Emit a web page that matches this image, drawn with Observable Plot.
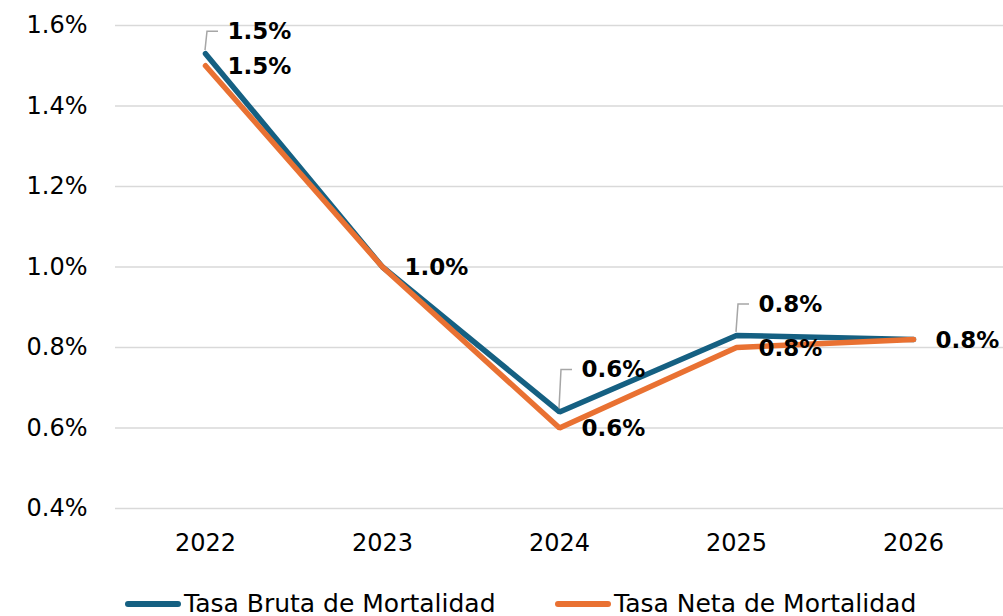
<!DOCTYPE html>
<html>
<head>
<meta charset="utf-8">
<script src="https://cdn.jsdelivr.net/npm/d3@7"></script>
<script src="https://cdn.jsdelivr.net/npm/@observablehq/plot@0.6"></script>
<style>
  html, body { margin: 0; padding: 0; background: #fff; }
  #wrap { position: relative; width: 1003px; height: 616px; font-family: "DejaVu Sans", sans-serif; }
  #legend { position: absolute; left: 0; top: 587px; width: 1003px; height: 30px; }
  .item { position: absolute; top: 0; display: flex; align-items: center; font-size: 25px; color: #000; white-space: nowrap; }
  .item svg { margin-right: 2px; }
</style>
</head>
<body>
<div id="wrap">
  <div id="chart"></div>
  <div id="legend"></div>
</div>
<script>
// Mortality rates (%) by year
const years = ["2022", "2023", "2024", "2025", "2026"];
const tasaBruta = [1.53, 1.00, 0.64, 0.83, 0.82];
const tasaNeta = [1.50, 1.00, 0.60, 0.80, 0.82];
const yTicks = [0.4, 0.6, 0.8, 1.0, 1.2, 1.4, 1.6];
const seriesNames = ["Tasa Bruta de Mortalidad", "Tasa Neta de Mortalidad"];
const seriesColors = ["#156082", "#E97132"];

const fmt = v => v.toFixed(1) + "%";

const bruta = years.map((year, i) => ({year, value: tasaBruta[i]}));
const neta = years.map((year, i) => ({year, value: tasaNeta[i]}));

// Gross-rate labels sit above their point and are tied back with a leader
const lift = {"2022": 22, "2024": 42, "2025": 31};
const leaderYears = Object.keys(lift);
const brutaLabeled = bruta.filter(d => leaderYears.includes(d.year));

const labelStyle = {textAnchor: "start", dx: 22, fontWeight: "bold", fontSize: 23, fill: "#000"};

const chart = Plot.plot({
  width: 1003,
  height: 587,
  marginLeft: 115,
  marginRight: 0,
  marginTop: 25,
  marginBottom: 79,
  style: {fontFamily: "DejaVu Sans, sans-serif", fontSize: "24px", color: "#000", background: "#fff"},
  x: {type: "point", domain: years, padding: 0.5, label: null},
  y: {domain: [0.4, 1.6], label: null},
  marks: [
    Plot.gridY(yTicks, {stroke: "#d9d9d9", strokeOpacity: 1, strokeWidth: 1.5}),
    Plot.axisY(yTicks, {tickSize: 0, tickPadding: 28, tickFormat: fmt, fontSize: 24}),
    Plot.axisX({tickSize: 0, tickPadding: 25, fontSize: 24}),
    Plot.line(bruta, {x: "year", y: "value", stroke: seriesColors[0], strokeWidth: 5.5, strokeLinejoin: "miter"}),
    Plot.line(neta, {x: "year", y: "value", stroke: seriesColors[1], strokeWidth: 5.5, strokeLinejoin: "miter"}),
    Plot.text(neta, {x: "year", y: "value", text: d => fmt(d.value), dy: 1, ...labelStyle}),
    ...leaderYears.map(year =>
      Plot.text(brutaLabeled.filter(d => d.year === year), {x: "year", y: "value", text: d => fmt(d.value), dy: -lift[year], ...labelStyle})
    )
  ]
});

// Leader lines from the gross-rate points to their labels
const sx = chart.scale("x"), sy = chart.scale("y");
const leaders = d3.select(chart).append("g").attr("fill", "none").attr("stroke", "#a6a6a6").attr("stroke-width", 1.5);
brutaLabeled.forEach(d => {
  const px = sx.apply(d.year), py = sy.apply(d.value);
  const ly = py - lift[d.year];
  leaders.append("path").attr("d", `M${px},${py - 3}L${px + 2},${ly}L${px + 13},${ly}`);
});

document.getElementById("chart").appendChild(chart);

// Legend
const legend = document.getElementById("legend");
const legendLeft = [124, 554];
seriesNames.forEach((name, i) => {
  const item = document.createElement("div");
  item.className = "item";
  item.style.left = legendLeft[i] + "px";
  item.innerHTML = `<svg width="58" height="32"><line x1="4" y1="17" x2="54" y2="17" stroke="${seriesColors[i]}" stroke-width="6" stroke-linecap="round"/></svg><span>${name}</span>`;
  legend.appendChild(item);
});
</script>
</body>
</html>
